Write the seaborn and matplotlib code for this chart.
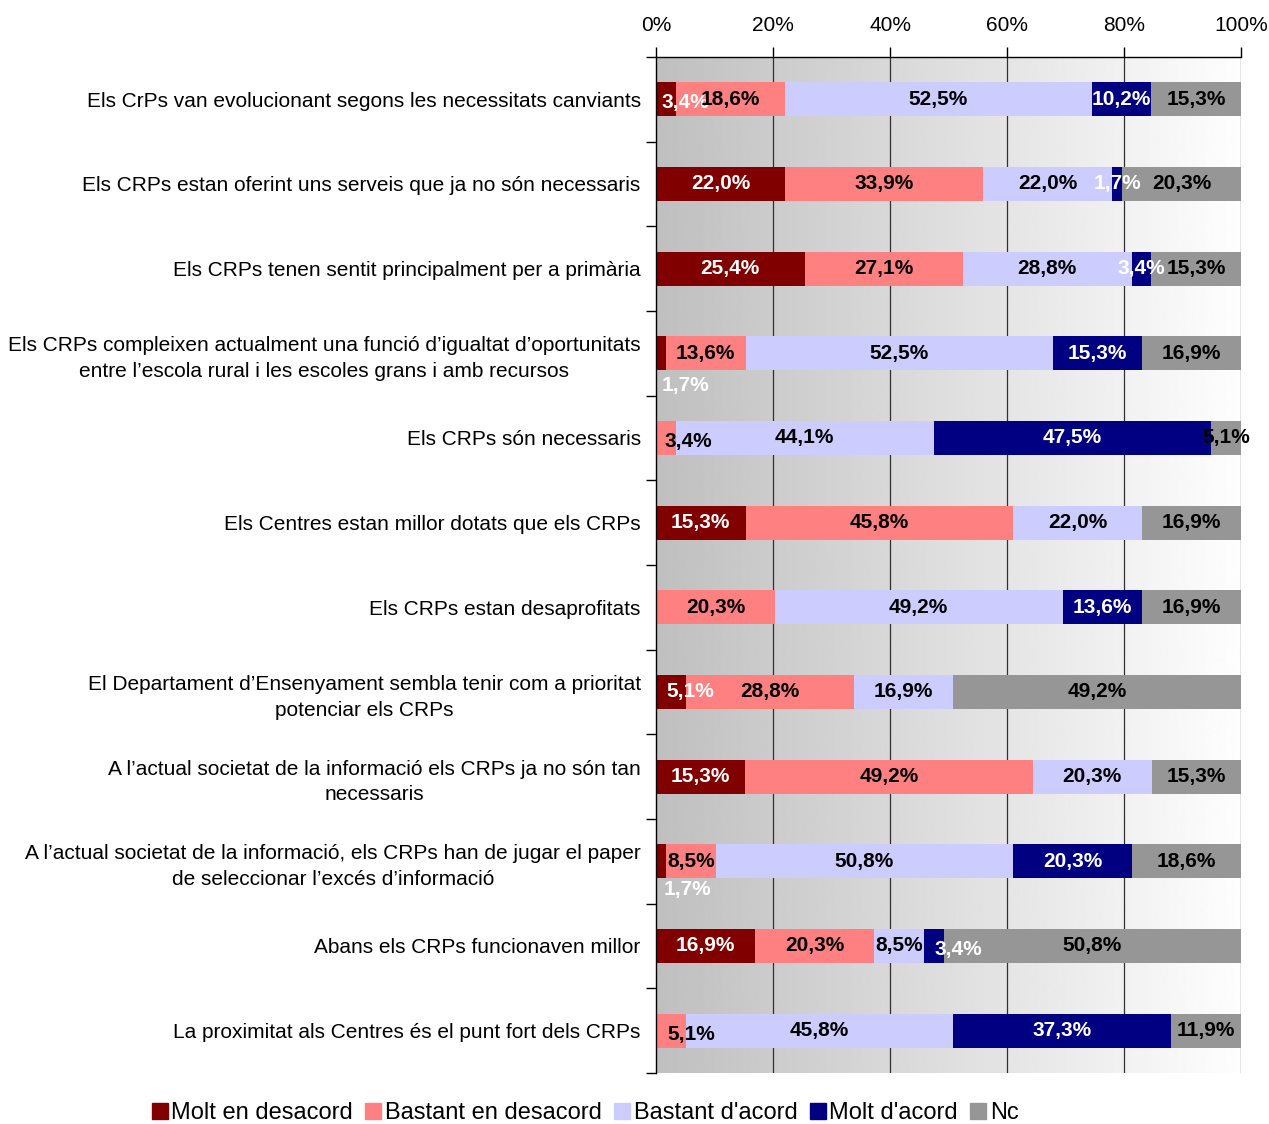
import matplotlib
matplotlib.use("Agg")
import matplotlib.pyplot as plt
from matplotlib.lines import Line2D
import seaborn as sns
import numpy as np
import pandas as pd

# Data (percentages)
categories = [
    "Els CrPs van evolucionant segons les necessitats canviants",
    "Els CRPs estan oferint uns serveis que ja no són necessaris",
    "Els CRPs tenen sentit principalment per a primària",
    "Els CRPs compleixen actualment una funció d’igualtat d’oportunitats\nentre l’escola rural i les escoles grans i amb recursos",
    "Els CRPs són necessaris",
    "Els Centres estan millor dotats que els CRPs",
    "Els CRPs estan desaprofitats",
    "El Departament d’Ensenyament sembla tenir com a prioritat\npotenciar els CRPs",
    "A l’actual societat de la informació els CRPs ja no són tan\nnecessaris",
    "A l’actual societat de la informació, els CRPs han de jugar el paper\nde seleccionar l’excés d’informació",
    "Abans els CRPs funcionaven millor",
    "La proximitat als Centres és el punt fort dels CRPs",
]
series = ["Molt en desacord", "Bastant en desacord", "Bastant d'acord", "Molt d'acord", "Nc"]

molt_desacord = [3.4, 22.0, 25.4, 1.7, 0.0, 15.3, 0.0, 5.1, 15.3, 1.7, 16.9, 0.0]
bastant_desacord = [18.6, 33.9, 27.1, 13.6, 3.4, 45.8, 20.3, 28.8, 49.2, 8.5, 20.3, 5.1]
bastant_acord = [52.5, 22.0, 28.8, 52.5, 44.1, 22.0, 49.2, 16.9, 20.3, 50.8, 8.5, 45.8]
molt_acord = [10.2, 1.7, 3.4, 15.3, 47.5, 0.0, 13.6, 0.0, 0.0, 20.3, 3.4, 37.3]
nc = [15.3, 20.3, 15.3, 16.9, 5.1, 16.9, 16.9, 49.2, 15.3, 18.6, 50.8, 11.9]

colors = ["#800000", "#FF8080", "#CCCCFF", "#000080", "#969696"]
text_colors = ["white", "black", "black", "white", "black"]

# small label nudges (x from segment start in %, y in rows) where the original moved labels
nudges = {(0, 0): (5.0, 0.04), (3, 0): (5.0, 0.38), (9, 0): (5.4, 0.33),
          (4, 1): (5.5, 0.04), (7, 0): (5.8, 0.0), (10, 3): (5.9, 0.04),
          (11, 1): (6.0, 0.04)}

df = pd.DataFrame({"cat": categories, series[0]: molt_desacord, series[1]: bastant_desacord,
                   series[2]: bastant_acord, series[3]: molt_acord, series[4]: nc})
vals = df[series].to_numpy()
pct = vals / vals.sum(axis=1, keepdims=True) * 100
cum = np.cumsum(pct, axis=1)

sns.set_theme(style="white")
plt.rcParams["font.family"] = ["Liberation Sans", "DejaVu Sans"]
plt.rcParams["text.color"] = "black"
plt.rcParams["xtick.color"] = "black"
plt.rcParams["ytick.color"] = "black"

fig = plt.figure(figsize=(12.69, 11.24), dpi=100)
ax = fig.add_axes([656 / 1269, 1 - 1073 / 1124, 585 / 1269, 1016 / 1124])

# gradient background
grad = np.linspace(0.75, 0.995, 256).reshape(1, -1)
ax.imshow(grad, cmap="gray", vmin=0, vmax=1, aspect="auto",
          extent=[0, 100, len(categories) - 0.5, -0.5], zorder=0)
for xv in [20, 40, 60, 80, 100]:
    ax.axvline(xv, color="#303030", lw=0.9, zorder=1)

# stacked bars: draw cumulative widths from the right-most series down
for i in range(len(series) - 1, -1, -1):
    plot_df = pd.DataFrame({"cat": categories, "w": cum[:, i]})
    sns.barplot(data=plot_df, x="w", y="cat", orient="h", color=colors[i],
                saturation=1, width=0.4, linewidth=0, ax=ax, zorder=2)

# value labels
for r in range(len(categories)):
    for i in range(len(series)):
        v = vals[r, i]
        if v <= 0:
            continue
        left = cum[r, i] - pct[r, i]
        x = left + pct[r, i] / 2
        y = r
        if (r, i) in nudges:
            dx, dy = nudges[(r, i)]
            x, y = left + dx, r + dy
        ax.text(x, y, f"{v:.1f}%".replace(".", ","), ha="center", va="center",
                fontsize=15, fontweight="bold", color=text_colors[i], zorder=5)

ax.set_xlim(0, 100)
ax.set_ylim(len(categories) - 0.5, -0.5)
ax.set_xticks([0, 20, 40, 60, 80, 100])
ax.set_xticklabels([f"{t}%" for t in [0, 20, 40, 60, 80, 100]])
ax.xaxis.tick_top()
ax.tick_params(axis="x", top=True, bottom=False, length=7, width=1, color="black",
               labelsize=15, pad=9, direction="out")
ax.set_yticks(np.arange(len(categories)))
ax.set_yticklabels(categories, multialignment="center", linespacing=1.45)
ax.set_yticks(np.arange(-0.5, len(categories), 1), minor=True)
ax.tick_params(axis="y", which="major", length=0, labelsize=15, pad=11)
ax.tick_params(axis="y", which="minor", left=True, length=7, width=1, color="black", direction="out")
ax.set_xlabel("")
ax.set_ylabel("")
for side in ["right", "bottom"]:
    ax.spines[side].set_visible(False)
for side in ["left", "top"]:
    ax.spines[side].set_visible(True)
    ax.spines[side].set_color("black")
    ax.spines[side].set_linewidth(1)

handles = [Line2D([], [], marker="s", linestyle="none", markersize=11.5, color=c) for c in colors]
fig.legend(handles, series, loc="center", bbox_to_anchor=(585 / 1269, 1 - 1113 / 1124),
           ncol=5, frameon=False, fontsize=17, handletextpad=0.15, columnspacing=0.5,
           handlelength=0.7)

fig.savefig("out.png", dpi=100)
